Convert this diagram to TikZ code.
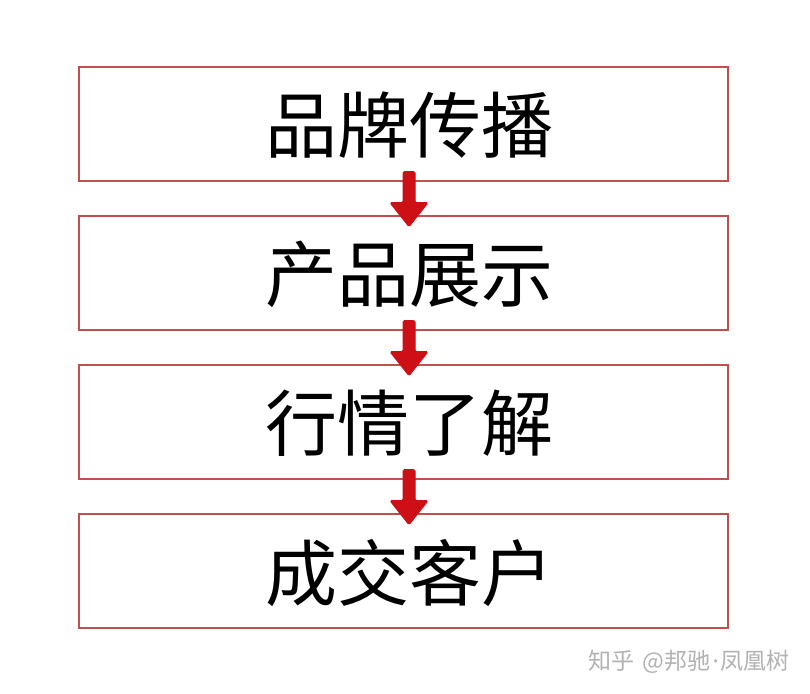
\documentclass[tikz,border=0pt]{standalone}
\usepackage{fontspec}
\newfontfamily\cjk{Noto Sans CJK SC}
\newfontfamily\latinsans{Noto Sans}
\definecolor{boxred}{RGB}{192,80,77}
\definecolor{arrred}{RGB}{204,16,22}
\definecolor{wmgray}{RGB}{178,178,178}
\begin{document}
\begin{tikzpicture}[x=1pt,y=-1pt,
  stagebox/.style={draw=boxred,line width=1.8pt,minimum width=649pt,minimum height=114pt,inner sep=0pt},
  stagetext/.style={font=\cjk\fontsize{72}{80}\selectfont,inner sep=0pt,anchor=center},
  downarrow/.style={fill=arrred,draw=arrred,line width=1pt,rounded corners=1.5pt}]
\useasboundingbox[fill=white] (0,0) rectangle (810,693);
\foreach \i/\y/\t in {1/123.6/品牌传播,2/272.6/产品展示,3/421.6/行情了解,4/570.6/成交客户}{
  \node[stagebox] (b\i) at (403.5,\y) {};
  \node[stagetext] (t\i) at (409,\y+2) {\t};
}
\foreach \a/\b in {b1/b2,b2/b3,b3/b4}{
  \coordinate (s) at ([xshift=5.5pt,yshift=10pt]\a.south);
  \coordinate (e) at ([xshift=5.5pt,yshift=-12pt]\b.north);
  \fill[downarrow] ([xshift=-6pt]s) -- ([xshift=6pt]s) -- ([xshift=6pt,yshift=24pt]e) -- ([xshift=19pt,yshift=24pt]e) -- (e) -- ([xshift=-19pt,yshift=24pt]e) -- ([xshift=-6pt,yshift=24pt]e) -- cycle;
}
\node[font=\cjk\fontsize{23}{25}\selectfont,text=wmgray,anchor=east,inner sep=0pt] (wm) at (790,662) {知乎\hspace{8pt}@邦驰\hspace{2pt}{\latinsans ·}\hspace{2pt}凤凰树};
\end{tikzpicture}
\end{document}
